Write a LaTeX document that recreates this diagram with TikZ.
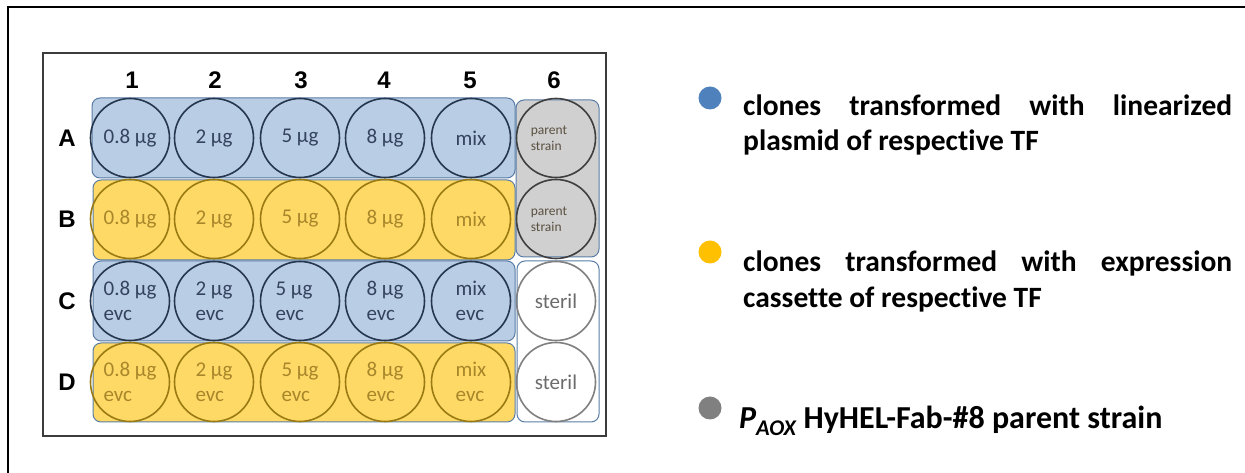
\documentclass[tikz,border=0pt]{standalone}
\usepackage{fontspec}
\setmainfont[Ligatures=NoCommon]{Carlito}
\newfontfamily\labelfont{Liberation Sans}
\definecolor{blueFill}{HTML}{B9CDE5}
\definecolor{blueRing}{HTML}{26364F}
\definecolor{blueText}{HTML}{34435E}
\definecolor{yellowFill}{HTML}{FFD966}
\definecolor{yellowRing}{HTML}{9A7A12}
\definecolor{yellowText}{HTML}{A8862A}
\definecolor{grayFill}{HTML}{D0D0D0}
\definecolor{grayRing}{HTML}{3F3F3F}
\definecolor{grayText}{HTML}{5A5040}
\definecolor{whiteRing}{HTML}{808080}
\definecolor{whiteText}{HTML}{6B6B6B}
\definecolor{bandLine}{HTML}{5A7DA6}
\definecolor{bulletBlue}{HTML}{4F81BD}
\definecolor{bulletYellow}{HTML}{FFC000}
\definecolor{bulletGray}{HTML}{808080}
\begin{document}
\begin{tikzpicture}[x=1bp,y=-1bp,
  band/.style={rounded corners=8bp, draw=bandLine, line width=1bp},
  well/.style={circle, minimum size=79bp, inner sep=0pt, line width=1.6bp, align=left,
    font=\fontsize{21bp}{25bp}\selectfont},
  wellBlue/.style={well, draw=blueRing, text=blueText},
  wellYellow/.style={well, draw=yellowRing, text=yellowText},
  wellGray/.style={well, draw=grayRing, text=grayText,
    font=\fontsize{13.5bp}{16bp}\selectfont},
  wellWhite/.style={well, draw=whiteRing, text=whiteText},
  plateLabel/.style={font=\labelfont\bfseries\fontsize{24bp}{26bp}\selectfont, inner sep=0pt},
  bullet/.style={circle, minimum size=23bp, inner sep=0pt},
  legendLine/.style={anchor=base west, inner sep=0pt,
    font=\bfseries\fontsize{29.5bp}{34bp}\selectfont}
]
\useasboundingbox (0,0) rectangle (1245,473);
\fill[white] (0,0) rectangle (1245,473);

% outer frame
\draw[line width=2.4bp, black] (8,473) -- (8,7) -- (1245,7);

% plate outline
\draw[line width=2bp, draw={rgb,255:red,60;green,60;blue,60}] (43,53) rectangle (606,436);

% row bands
\filldraw[band, fill=blueFill]   (92,98)  rectangle (515,178);
\filldraw[band, fill=yellowFill] (93,180) rectangle (515,260);
\filldraw[band, fill=blueFill]   (93,261) rectangle (515,341);
\filldraw[band, fill=yellowFill] (93,343) rectangle (515,422);
\filldraw[band, fill=grayFill]   (516,100) rectangle (599,257);
\filldraw[band, fill=white]      (517,261) rectangle (599,422);

% column and row labels
\node[plateLabel] (c1) at (132,80) {1};
\node[plateLabel] (c2) at (215,80) {2};
\node[plateLabel] (c3) at (301,80) {3};
\node[plateLabel] (c4) at (384,80) {4};
\node[plateLabel] (c5) at (470,80) {5};
\node[plateLabel] (c6) at (554,80) {6};
\node[plateLabel] (rA) at (67,138) {A};
\node[plateLabel] (rB) at (67,219) {B};
\node[plateLabel] (rC) at (67,301) {C};
\node[plateLabel] (rD) at (67,382) {D};

% row A
\node[wellBlue] (A1) at (130,138) {0.8 µg};
\node[wellBlue] (A2) at (214,138) {2 µg};
\node[wellBlue] (A3) at (300,138) {5 µg};
\node[wellBlue] (A4) at (385,138) {8 µg};
\node[wellBlue] (A5) at (471,138) {mix};
\node[wellGray] (A6) at (556,138) {\hspace*{-14bp}parent\\\hspace*{-14bp}strain};
% row B
\node[wellYellow] (B1) at (130,219) {0.8 µg};
\node[wellYellow] (B2) at (214,219) {2 µg};
\node[wellYellow] (B3) at (300,219) {5 µg};
\node[wellYellow] (B4) at (385,219) {8 µg};
\node[wellYellow] (B5) at (471,219) {mix};
\node[wellGray] (B6) at (556,219) {\hspace*{-14bp}parent\\\hspace*{-14bp}strain};
% row C
\node[wellBlue] (C1) at (130,301) {0.8 µg\\evc};
\node[wellBlue] (C2) at (214,301) {2 µg\\evc};
\node[wellBlue] (C3) at (300,301) {\hspace*{-12bp}5 µg\\\hspace*{-12bp}evc};
\node[wellBlue] (C4) at (385,301) {8 µg\\evc};
\node[wellBlue] (C5) at (471,301) {mix\\evc};
\node[wellWhite] (C6) at (556,301) {steril};
% row D
\node[wellYellow] (D1) at (130,382) {0.8 µg\\evc};
\node[wellYellow] (D2) at (214,382) {2 µg\\evc};
\node[wellYellow] (D3) at (300,382) {5 µg\\evc};
\node[wellYellow] (D4) at (385,382) {8 µg\\evc};
\node[wellYellow] (D5) at (471,382) {mix\\evc};
\node[wellWhite] (D6) at (556,382) {steril};

% legend
\node[bullet, fill=bulletBlue]   (lgBlue)   at (710,98)  {};
\node[bullet, fill=bulletYellow] (lgYellow) at (710,252) {};
\node[bullet, fill=bulletGray]   (lgGray)   at (710,408) {};

\node[legendLine] (lgBlueA) at (743,116)
  {\hbox to 489bp{clones\hfill transformed\hfill with\hfill linearized}};
\node[legendLine] (lgBlueB) at (743,151) {plasmid of respective TF};
\node[legendLine] (lgYellowA) at (743,272)
  {\hbox to 489bp{clones\hfill transformed\hfill with\hfill expression}};
\node[legendLine] (lgYellowB) at (743,308) {cassette of respective TF};
\node[legendLine, font=\bfseries\fontsize{32bp}{36bp}\selectfont] (lgGrayA) at (739,429)
  {\itshape P\textsubscript{AOX}\upshape\ HyHEL-Fab-\#8 parent strain};
\end{tikzpicture}
\end{document}
